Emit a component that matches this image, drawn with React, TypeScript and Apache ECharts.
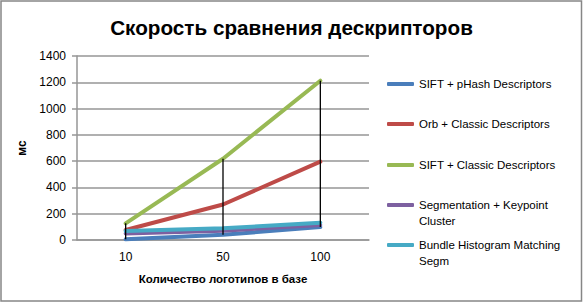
import React, { useEffect, useRef } from "react";
import * as echarts from "echarts";

const categories = ["10", "50", "100"];
const seriesNames = [
  "SIFT + pHash Descriptors",
  "Orb + Classic Descriptors",
  "SIFT + Classic Descriptors",
  "Segmentation + Keypoint Cluster",
  "Bundle Histogram Matching Segm",
];
const legendLabels = [
  "SIFT + pHash Descriptors",
  "Orb + Classic Descriptors",
  "SIFT + Classic Descriptors",
  "\nSegmentation + Keypoint\nCluster",
  "\nBundle Histogram Matching\nSegm",
];
const siftPhash = [5, 40, 98];
const orbClassic = [76, 270, 596];
const siftClassic = [127, 618, 1212];
const segmentation = [50, 71, 114];
const bundle = [68, 89, 132];
const colors = ["#4A7EBB", "#BE4B48", "#98B954", "#7D60A0", "#46AAC5"];
const yTicks = [0, 200, 400, 600, 800, 1000, 1200, 1400];

const FONT = "'Liberation Sans', Arial, sans-serif";

export default function App() {
  const ref = useRef<HTMLDivElement>(null);
  useEffect(() => {
    document.body.style.margin = "0";
    if (!ref.current) return;
    const chart = echarts.init(ref.current, undefined, { renderer: "svg" });
    const all = [siftPhash, orbClassic, siftClassic, segmentation, bundle];
    const dropData = categories.map((_, i) => {
      const vals = all.map((s) => s[i]);
      return [i, Math.min(...vals), Math.max(...vals)];
    });
    const legendTops = [76, 116, 157, 181, 221];
    const legends = seriesNames.map((name, i) => ({
      data: [name],
      left: 387,
      top: legendTops[i],
      orient: "vertical",
      icon: "roundRect",
      itemWidth: 27,
      itemHeight: 4,
      padding: 0,
      selectedMode: false,
      formatter: () => legendLabels[i],
      textStyle: {
        fontFamily: FONT,
        fontSize: 11.5,
        color: "#000",
        lineHeight: 16,
      },
    }));
    const lineSeries = seriesNames.map((name, i) => ({
      name,
      type: "line",
      data: all[i],
      symbol: "none",
      itemStyle: { color: colors[i] },
      lineStyle: { width: 4, color: colors[i], cap: "round", join: "round" },
      z: 2 + i,
    }));
    chart.setOption({
      animation: false,
      backgroundColor: "#fff",
      title: {
        text: "Скорость сравнения дескрипторов",
        left: "center",
        top: 12,
        textStyle: { fontFamily: FONT, fontSize: 20.7, fontWeight: "bold", color: "#000" },
      },
      graphic: [
        {
          type: "rect",
          shape: { x: 1, y: 1, width: 580.5, height: 300 },
          style: { fill: "none", stroke: "#868686", lineWidth: 1.5 },
          silent: true,
        },
      ],
      legend: legends,
      grid: { left: 77, right: 214, top: 56, bottom: 63, containLabel: false },
      xAxis: {
        type: "category",
        data: categories,
        boundaryGap: true,
        name: "Количество логотипов в базе",
        nameLocation: "middle",
        nameGap: 33,
        nameTextStyle: { fontFamily: FONT, fontSize: 11.5, fontWeight: "bold", color: "#000" },
        axisLine: { lineStyle: { color: "#969696", width: 1.5 } },
        axisTick: { show: false },
        axisLabel: { fontFamily: FONT, fontSize: 12, color: "#000", margin: 11 },
      },
      yAxis: {
        type: "value",
        min: 0,
        max: 1400,
        interval: 200,
        name: "мс",
        nameLocation: "middle",
        nameGap: 43,
        nameTextStyle: { fontFamily: FONT, fontSize: 12, fontWeight: "bold", color: "#000" },
        axisLine: { show: true, lineStyle: { color: "#969696", width: 1.5 } },
        axisTick: { show: true, length: 5, lineStyle: { color: "#969696", width: 1.5 } },
        axisLabel: {
          fontFamily: FONT,
          fontSize: 12,
          color: "#000",
          margin: 11,
          formatter: (v: number) => (yTicks.includes(v) ? String(v) : ""),
        },
        splitLine: { lineStyle: { color: "#969696", width: 1.5 } },
      },
      series: [
        ...lineSeries,
        {
          type: "custom",
          name: "drop",
          data: dropData,
          encode: { x: 0, y: [1, 2] },
          z: 20,
          silent: true,
          renderItem: (params: any, api: any) => {
            const top = api.coord([api.value(0), api.value(2)]);
            const bot = api.coord([api.value(0), api.value(1)]);
            return {
              type: "line",
              shape: { x1: top[0], y1: top[1], x2: bot[0], y2: bot[1] },
              style: { stroke: "#000", lineWidth: 1.3 },
            };
          },
        },
      ],
    });
    return () => chart.dispose();
  }, []);
  return <div ref={ref} style={{ width: 583, height: 303 }} />;
}
